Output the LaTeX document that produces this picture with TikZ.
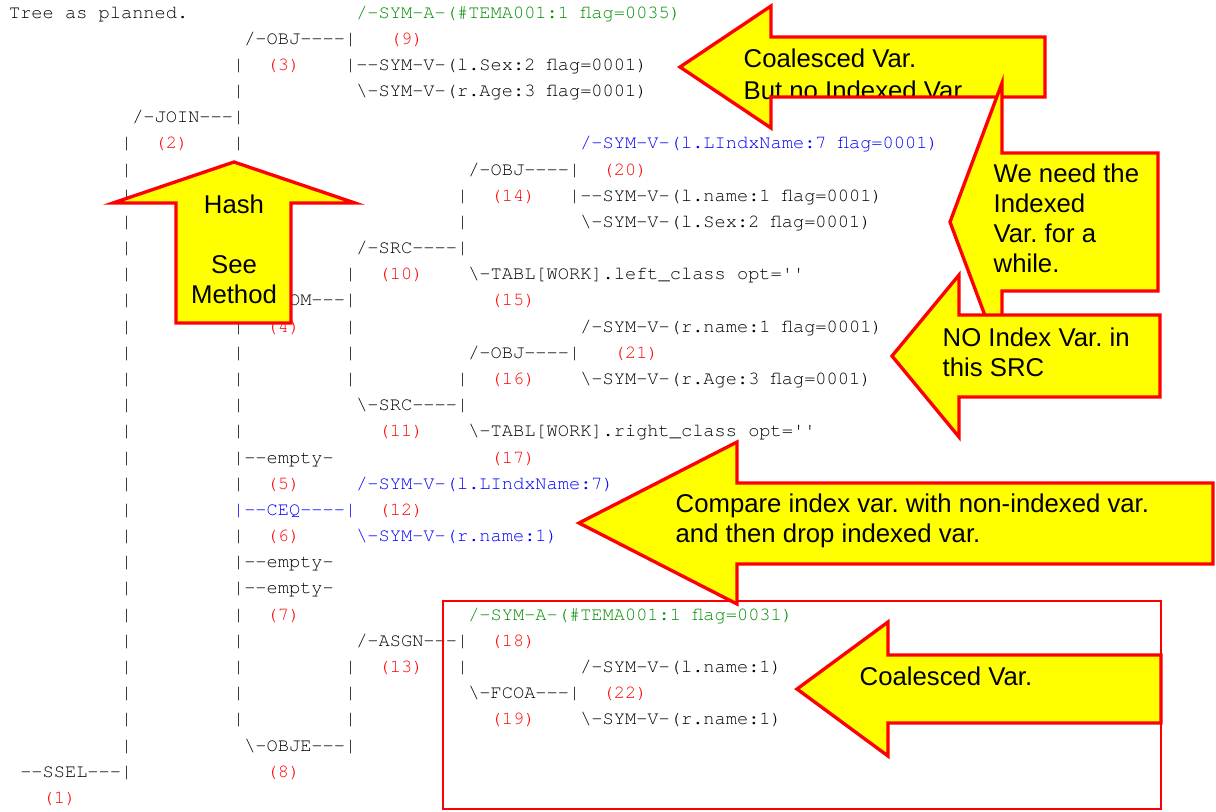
\documentclass[tikz,border=0pt]{standalone}
\usepackage{fontspec}
\setmonofont{texgyrecursor-regular.otf}
\newfontfamily\notefont{Liberation Sans}
\frenchspacing

\definecolor{numred}{RGB}{255,0,0}
\definecolor{symgreen}{RGB}{0,140,0}
\definecolor{symblue}{RGB}{0,0,255}
\definecolor{noteyellow}{RGB}{255,255,0}
\definecolor{notered}{RGB}{255,0,0}

\tikzstyle{tree}=[anchor=base west,inner sep=0pt,font=\fontsize{14}{16}\selectfont\ttfamily]
\tikzstyle{num}=[tree,text=numred]
\tikzstyle{asym}=[tree,text=symgreen]
\tikzstyle{vsym}=[tree,text=symblue]
\tikzstyle{callout}=[fill=noteyellow,draw=notered,line width=2.5pt]
\tikzstyle{note}=[anchor=base west,inner sep=0pt,font=\fontsize{19.3}{22}\selectfont\notefont]
\tikzstyle{frame}=[draw=notered,line width=1.5pt]

\begin{document}
\begin{tikzpicture}[x=0.75pt,y=-0.75pt]
  \useasboundingbox (0,0) rectangle (1216,811);

  \begin{scope}[shift={(8.8,18)},x=8.4pt,y=-19.635pt]
    \foreach \col/\rows in {10/{5,...,28},
        20/{2,3,5,12,13,14,15,16,18,20,23,24,25,26,27},
        30/{10,12,13,14,25,26,27}, 40/{7,8,14,25}}{
      \foreach \row in \rows
        \node[tree] (bar\col-\row) at (\col,\row) {|};
    }

    \foreach \num/\row/\col in {9/1/34,3/2/23,2/5/13,20/6/53,14/7/43,10/10/33,
        15/11/43,4/12/23,21/13/54,16/14/43,11/16/33,17/17/43,5/18/23,12/19/33,
        6/20/23,7/23/23,18/24/43,13/25/33,22/26/53,19/27/43,8/29/23,1/30/3}
      \node[num] (n\num) at (\col,\row) {(\num)};

    \node[tree] (title) at (0,0) {Tree as planned.};
    \node[asym] (syma9) at (31,0) {/-SYM-A-(\#TEMA001:1 flag=0035)};
    \node[tree] (obj3) at (21,1) {/-OBJ----|};
    \node[tree] (sex3) at (30,2) {|--SYM-V-(l.Sex:2 flag=0001)};
    \node[tree] (age3) at (31,3) {\textbackslash-SYM-V-(r.Age:3 flag=0001)};
    \node[tree] (join2) at (11,4) {/-JOIN---|};
    \node[vsym] (indx20) at (51,5) {/-SYM-V-(l.LIndxName:7 flag=0001)};
    \node[tree] (obj14) at (41,6) {/-OBJ----|};
    \node[tree] (name14) at (50,7) {|--SYM-V-(l.name:1 flag=0001)};
    \node[tree] (sex14) at (51,8) {\textbackslash-SYM-V-(l.Sex:2 flag=0001)};
    \node[tree] (src10) at (31,9) {/-SRC----|};
    \node[tree] (tabl15) at (41,10) {\textbackslash-TABL[WORK].left\_class opt=''};
    \node[tree] (from4) at (21,11) {/-FROM---|};
    \node[tree] (name21) at (51,12) {/-SYM-V-(r.name:1 flag=0001)};
    \node[tree] (obj16) at (41,13) {/-OBJ----|};
    \node[tree] (age16) at (51,14) {\textbackslash-SYM-V-(r.Age:3 flag=0001)};
    \node[tree] (src11) at (31,15) {\textbackslash-SRC----|};
    \node[tree] (tabl17) at (41,16) {\textbackslash-TABL[WORK].right\_class opt=''};
    \node[tree] (empty5) at (20,17) {|--empty-};
    \node[vsym] (indx12) at (31,18) {/-SYM-V-(l.LIndxName:7)};
    \node[vsym] (ceq6) at (20,19) {|--CEQ----|};
    \node[vsym] (rname6) at (31,20) {\textbackslash-SYM-V-(r.name:1)};
    \node[tree] (emptya) at (20,21) {|--empty-};
    \node[tree] (empty7) at (20,22) {|--empty-};
    \node[asym] (syma18) at (41,23) {/-SYM-A-(\#TEMA001:1 flag=0031)};
    \node[tree] (asgn13) at (31,24) {/-ASGN---|};
    \node[tree] (lname22) at (51,25) {/-SYM-V-(l.name:1)};
    \node[tree] (fcoa19) at (41,26) {\textbackslash-FCOA---|};
    \node[tree] (rname22) at (51,27) {\textbackslash-SYM-V-(r.name:1)};
    \node[tree] (obje8) at (21,28) {\textbackslash-OBJE---|};
    \node[tree] (ssel1) at (1,29) {--SSEL---|};
  \end{scope}

  \draw[frame] (443,601) rectangle (1161,809);

  \path[callout,path picture={
      \node[note] (notea1) at (742,67) {Coalesced Var.};
      \node[note] (notea2) at (742,99) {But no Indexed Var};}]
    (680,67) -- (771,6) -- (771,37) -- (1045,37) -- (1045,97)
    -- (771,97) -- (771,128) -- cycle;

  \path[callout,path picture={
      \foreach \l [count=\i] in {We need the,Indexed,Var. for a,while.}
        \node[note] (noteb\i) at (992,{182+30*(\i-1)}) {\l};}]
    (950,222) -- (1002,83) -- (1002,153) -- (1158,153) -- (1158,291)
    -- (1002,291) -- (1002,361) -- cycle;

  \path[callout,path picture={
      \foreach \l [count=\i] in {NO Index Var. in,this SRC}
        \node[note] (notec\i) at (941,{346+30*(\i-1)}) {\l};}]
    (892,356) -- (959,275) -- (959,315) -- (1160,315) -- (1160,397)
    -- (959,397) -- (959,437) -- cycle;

  \path[callout,path picture={
      \foreach \l [count=\i] in {Compare index var. with non-indexed var.,and then drop indexed var.}
        \node[note] (noted\i) at (674,{512+30*(\i-1)}) {\l};}]
    (579,523) -- (737,442) -- (737,483) -- (1213,483) -- (1213,564)
    -- (737,564) -- (737,604) -- cycle;

  \path[callout,path picture={
      \node[note] (notee) at (858,685) {Coalesced Var.};}]
    (797,689) -- (888,622) -- (888,655) -- (1161,655) -- (1161,723)
    -- (888,723) -- (888,756) -- cycle;

  \path[callout,path picture={
      \foreach \l/\y [count=\i] in {Hash/213,See/273,Method/303}
        \node[note,anchor=base] (notef\i) at (234,\y) {\l};}]
    (234,162) -- (355,203) -- (291,203) -- (291,323) -- (176,323)
    -- (176,203) -- (113,203) -- cycle;
\end{tikzpicture}
\end{document}
